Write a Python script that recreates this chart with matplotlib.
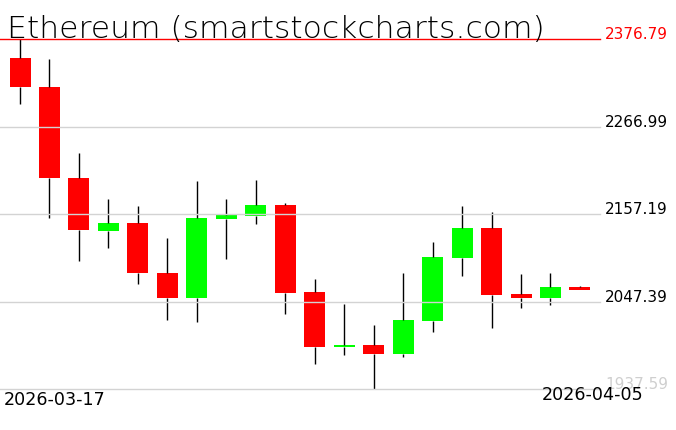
import matplotlib
matplotlib.use("Agg")
import matplotlib.pyplot as plt
import matplotlib.transforms as mtransforms
import numpy as np

title = "Ethereum (smartstockcharts.com)"
dates = ["2026-03-17", "2026-03-18", "2026-03-19", "2026-03-20", "2026-03-21",
         "2026-03-22", "2026-03-23", "2026-03-24", "2026-03-25", "2026-03-26",
         "2026-03-27", "2026-03-28", "2026-03-29", "2026-03-30", "2026-03-31",
         "2026-04-01", "2026-04-02", "2026-04-03", "2026-04-04", "2026-04-05"]
opens = [2353.3, 2317.3, 2203.1, 2136.6, 2146.6, 2083.9, 2052.5, 2151.3, 2155.1, 2168.9,
         2059.7, 1991.1, 1993.2, 1982.3, 2023.7, 2102.4, 2140.0, 2057.2, 2052.5, 2066.0]
highs = [2376.79, 2352.1, 2234.1, 2176.4, 2167.6, 2127.5, 2199.4, 2176.4, 2200.7, 2171.4,
         2076.1, 2044.6, 2018.3, 2083.2, 2122.4, 2167.6, 2159.5, 2082.3, 2083.5, 2066.6]
lows = [2296.0, 2152.6, 2099.0, 2115.3, 2069.7, 2024.9, 2022.4, 2101.5, 2145.4, 2032.1,
        1969.7, 1980.6, 1937.59, 1978.1, 2009.9, 2080.1, 2014.9, 2040.0, 2043.4, 2062.2]
closes = [2317.3, 2203.1, 2137.5, 2146.7, 2083.9, 2052.5, 2152.6, 2156.3, 2168.9, 2058.8,
          1990.7, 1993.2, 1982.3, 2024.6, 2103.6, 2140.0, 2055.9, 2052.5, 2066.3, 2062.6]

W, H = 676, 431
fig = plt.figure(figsize=(W / 100, H / 100), dpi=100)
fig.patch.set_facecolor("white")
ax = fig.add_axes([0, (H - 390.3) / H, 600 / W, 350 / H])
ax.set_axis_off()

n = len(opens)
x = np.arange(n)
ymin, ymax = min(lows), max(highs)
ax.set_ylim(ymin, ymax)
ax.set_xlim(-0.679, n - 1 + 0.68)

body_w = 0.713
for i in range(n):
    o, h, l, c = opens[i], highs[i], lows[i], closes[i]
    col = "#00ff00" if c >= o else "#ff0000"
    top, bot = max(o, c), min(o, c)
    ax.bar(x[i], top - bot, bottom=bot, width=body_w, color=col, linewidth=0, zorder=2)
    ax.vlines(x[i], top, h, color="black", linewidth=1.0, zorder=2.5, clip_on=False)
    ax.vlines(x[i], l, bot, color="black", linewidth=1.0, zorder=2.5, clip_on=False)

ticks = np.linspace(ymin, ymax, 5)
trans = mtransforms.blended_transform_factory(ax.transAxes, ax.transData)
off = mtransforms.offset_copy(trans, fig=fig, x=0, y=1.2, units="dots")
for k, t in enumerate(ticks):
    if k == len(ticks) - 1:
        lc, tc = "#ff0000", "#ff0000"
    elif k == 0:
        lc, tc = "#d3d3d3", "#cfcfcf"
    else:
        lc, tc = "#d3d3d3", "black"
    ax.plot([0, 1], [t, t], transform=trans, color=lc, linewidth=1.0, zorder=3, clip_on=False)
    ax.text(605 / 600, t, f"{t:.2f}", transform=off, ha="left", va="baseline",
            fontsize=11, color=tc, family="DejaVu Sans")

fig.text(7 / W, 1 - 37.5 / H, title, fontsize=22.6, color="black", ha="left",
         va="baseline", family="DejaVu Sans", fontweight="light")
fig.text(4 / W, 1 - 405.5 / H, dates[0], fontsize=12.6, color="black", ha="left",
         va="baseline", family="DejaVu Sans")
fig.text(541.5 / W, 1 - 400.5 / H, dates[-1], fontsize=12.6, color="black", ha="left",
         va="baseline", family="DejaVu Sans")

fig.savefig("out.png", dpi=100, facecolor="white")
